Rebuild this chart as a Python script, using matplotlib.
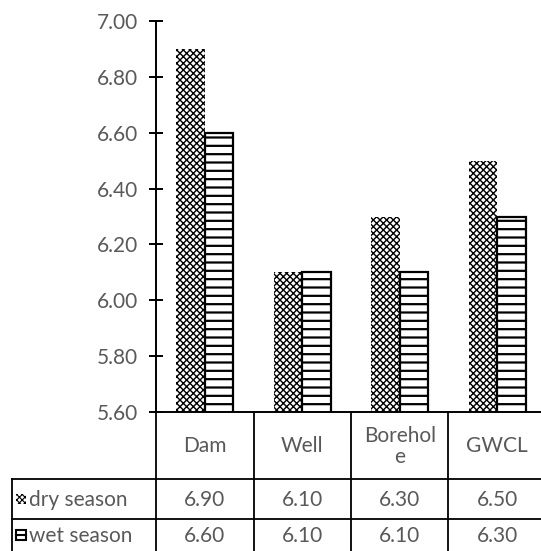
import matplotlib.pyplot as plt
from matplotlib.patches import Rectangle
from matplotlib.lines import Line2D
import numpy as np

categories = ['Dam', 'Well', 'Borehol\ne', 'GWCL']
dry = [6.90, 6.10, 6.30, 6.50]
wet = [6.60, 6.10, 6.10, 6.30]
series_labels = ['dry season', 'wet season']
yticks = [5.60, 5.80, 6.00, 6.20, 6.40, 6.60, 6.80, 7.00]

W, H = 541, 551
TEXT = '#595959'
FONT = 'Lato'
FS = 15

plt.rcParams['font.family'] = [FONT, 'DejaVu Sans']


def px(x, y):
    # pixel (from top-left) to figure coords
    return x / W, 1 - y / H


fig = plt.figure(figsize=(W / 100, H / 100), dpi=100)

# plot area: x 156..546 px, y 21..412 px
ax_left, ax_right, ax_top, ax_bottom = 156, 546, 21, 412
ax = fig.add_axes([ax_left / W, 1 - ax_bottom / H, (ax_right - ax_left) / W, (ax_bottom - ax_top) / H])

x = np.arange(len(categories))
bw = 0.29

with plt.rc_context({'hatch.linewidth': 1.0}):
    b1 = ax.bar(x - bw / 2, dry, bw, facecolor='white', edgecolor='black',
                linewidth=0, hatch='xxxxx', zorder=2)
with plt.rc_context({'hatch.linewidth': 1.6}):
    b2 = ax.bar(x + bw / 2, wet, bw, facecolor='white', edgecolor='black',
                linewidth=1.6, hatch='--', zorder=2)

ax.set_xlim(-0.5, len(categories) - 0.5)
ax.set_ylim(5.6, 7.0)
ax.set_yticks(yticks)
ax.set_yticklabels(['%.2f' % v for v in yticks])
ax.set_xticks([])
for s in ['top', 'right']:
    ax.spines[s].set_visible(False)
ax.spines['left'].set_linewidth(1.4)
ax.spines['bottom'].set_linewidth(1.4)
ax.tick_params(axis='y', direction='inout', length=10, width=1.4, pad=8,
               labelsize=FS, labelcolor=TEXT)

# data table under the chart
col_w = (ax_right - ax_left) / len(categories)
col_edges = [ax_left + i * col_w for i in range(len(categories) + 1)]
row_top, row_head, row_dry, row_bot = 412, 479, 519, 560
tbl_left = 12
lw = 1.3


def hline(y, x0, x1):
    fig.add_artist(Line2D([x0 / W, x1 / W], [1 - y / H, 1 - y / H], color='black', lw=lw))


def vline(xp, y0, y1):
    fig.add_artist(Line2D([xp / W, xp / W], [1 - y0 / H, 1 - y1 / H], color='black', lw=lw))


hline(row_head, tbl_left, W + 5)
hline(row_dry, tbl_left, W + 5)
vline(tbl_left, row_head, row_bot)
for xe in col_edges[:-1]:
    vline(xe, row_top, row_bot)

for i, cat in enumerate(categories):
    cx = col_edges[i] + col_w / 2
    fig.text(*px(cx, (row_top + row_head) / 2 + 1), cat, ha='center', va='center',
             fontsize=FS, color=TEXT, linespacing=1.05)
    fig.text(*px(cx, (row_head + row_dry) / 2 + 1), '%.2f' % dry[i], ha='center', va='center',
             fontsize=FS, color=TEXT)
    fig.text(*px(cx, (row_dry + 551) / 2 + 1), '%.2f' % wet[i], ha='center', va='center',
             fontsize=FS, color=TEXT)

# row labels with legend keys
key = 10
dy = (row_head + row_dry) / 2
wy = (row_dry + 551) / 2
kx = 16
with plt.rc_context({'hatch.linewidth': 0.8}):
    k1 = Rectangle(px(kx, dy + key / 2), key / W, key / H, transform=fig.transFigure,
                   facecolor='white', edgecolor='black', linewidth=0, hatch='xxxxxx')
fig.add_artist(k1)
k2 = Rectangle(px(kx, wy + key / 2), key / W, key / H, transform=fig.transFigure,
               facecolor='white', edgecolor='black', linewidth=1.5)
fig.add_artist(k2)
fig.add_artist(Line2D([kx / W, (kx + key) / W], [1 - wy / H, 1 - wy / H], color='black', lw=1.5))
fig.text(*px(29, dy + 1), series_labels[0], ha='left', va='center', fontsize=FS, color=TEXT)
fig.text(*px(29, wy + 1), series_labels[1], ha='left', va='center', fontsize=FS, color=TEXT)

fig.savefig('out.png', dpi=100)
